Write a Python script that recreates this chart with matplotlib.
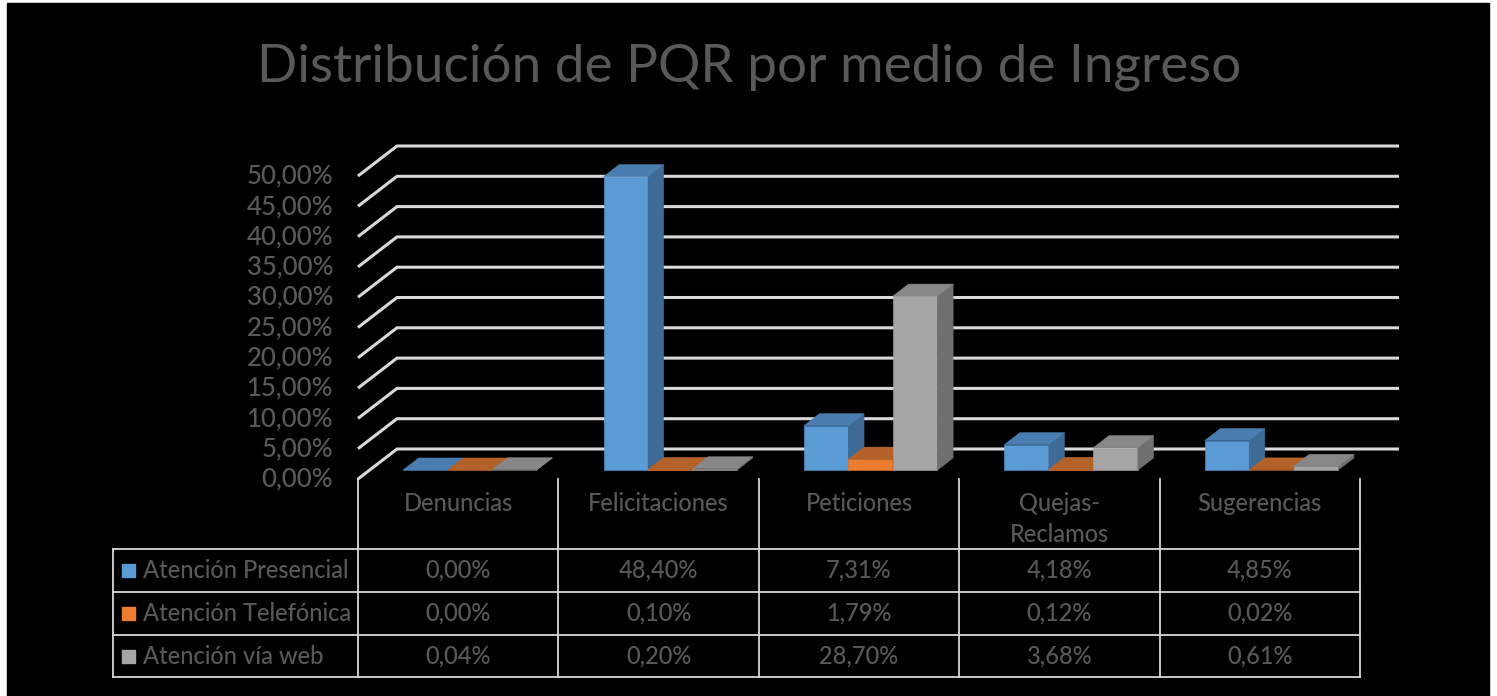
import numpy as np
import matplotlib.pyplot as plt
from matplotlib.patches import Polygon, Rectangle

plt.rcParams['font.family'] = ['Lato', 'DejaVu Sans']

# data
categorias = ['Denuncias', 'Felicitaciones', 'Peticiones', 'Quejas-\nReclamos', 'Sugerencias']
series = ['Atención Presencial', 'Atención Telefónica', 'Atención vía web']
presencial = [0.00, 48.40, 7.31, 4.18, 4.85]
telefonica = [0.00, 0.10, 1.79, 0.12, 0.02]
via_web = [0.04, 0.20, 28.70, 3.68, 0.61]
yticks = np.arange(0, 55, 5)
valores = [presencial, telefonica, via_web]

c_front = ['#5b9bd5', '#ed7d31', '#a5a5a5']
c_side = ['#3f6c96', '#a9581f', '#707070']
c_top = ['#4a7eb0', '#b4622a', '#878787']
txt = '#595959'
grid = '#d9d9d9'

W, H = 1497, 696
X0, CW = 358, 200.4      # px of category 0, px per category
Y0, PY = 479, 6.06       # px of 0 %, px per 1 %
DX, DY = 39 / CW, 30 / PY  # depth offset in data units

def pct(v):
    return f'{v:.2f}%'.replace('.', ',')

def fy(py):
    return 1 - py / H

fig = plt.figure(figsize=(W / 100, H / 100), dpi=100, facecolor='white')
fig.add_artist(Rectangle((7 / W, 0), (1489 - 7) / W, 1 - 3 / H,
                         transform=fig.transFigure, color='black', zorder=-5))
ax = fig.add_axes([0, 0, 1, 1])
ax.patch.set_visible(False)
ax.axis('off')
ax.set_xlim(-X0 / CW, (W - X0) / CW)
ax.set_ylim((Y0 - H) / PY, Y0 / PY)

# back wall / side wall gridlines
ncat = len(categorias)
for v in yticks:
    ax.plot([0, DX, ncat + DX], [v, v + DY, v + DY], color=grid, lw=2.2,
            solid_joinstyle='miter', solid_capstyle='butt', zorder=1)
    ax.annotate(pct(v), xy=(0, v), xytext=(-18, 0), textcoords='offset points',
                ha='right', va='center', fontsize=18.5, color=txt, fontweight='medium')

# 3d bars
gap = 1.5
bw = 1 / (len(series) + gap)
d0, d1 = 0.3, 0.7

def P(x, v, d):
    return (x + d * DX, v + d * DY)

z = 2
for i in range(ncat):
    for j in range(len(series)):
        v = valores[j][i]
        l = i + gap / 2 * bw + j * bw
        r = l + bw
        faces = [
            ([P(l, 0, d0), P(r, 0, d0), P(r, v, d0), P(l, v, d0)], c_front[j]),
            ([P(r, 0, d0), P(r, 0, d1), P(r, v, d1), P(r, v, d0)], c_side[j]),
            ([P(l, v, d0), P(r, v, d0), P(r, v, d1), P(l, v, d1)], c_top[j]),
        ]
        for pts, col in faces:
            ax.add_patch(Polygon(pts, closed=True, facecolor=col, edgecolor=col,
                                 lw=0.4, zorder=z))
            z += 0.01

# data table
xt = ax.get_xaxis_transform()
tl = 1.3
rows = [549, 592, 635, 677]
left_px = 113
for i in range(ncat + 1):
    ax.plot([i, i], [fy(479), fy(rows[-1])], transform=xt, color=grid, lw=tl,
            zorder=3, solid_capstyle='projecting')
for py in rows:
    fig.add_artist(plt.Line2D([left_px / W, (X0 + ncat * CW) / W], [fy(py), fy(py)],
                              color=grid, lw=tl, solid_capstyle='projecting'))
fig.add_artist(plt.Line2D([left_px / W, left_px / W], [fy(rows[0]), fy(rows[-1])],
                          color=grid, lw=tl, solid_capstyle='projecting'))

for i, cat in enumerate(categorias):
    ax.text(i + 0.5, fy(492), cat, transform=xt, ha='center', va='top',
            fontsize=17, color=txt, linespacing=1.4, fontweight='medium')

for j, s in enumerate(series):
    yc = fy((rows[j] + rows[j + 1]) / 2)
    fig.add_artist(Rectangle((122 / W, yc - 6.5 / H), 13 / W, 13 / H,
                             transform=fig.transFigure, color=c_front[j]))
    fig.text(143 / W, yc, s, ha='left', va='center', fontsize=17, color=txt,
             fontweight='medium')
    for i in range(ncat):
        ax.text(i + 0.5, yc, pct(valores[j][i]), transform=xt, ha='center',
                va='center', fontsize=17, color=txt, fontweight='medium')

fig.text(749 / W, fy(67), 'Distribución de PQR por medio de Ingreso', ha='center',
         va='center', fontsize=38.2, color=txt)

fig.savefig('out.png', dpi=100, facecolor=fig.get_facecolor())
